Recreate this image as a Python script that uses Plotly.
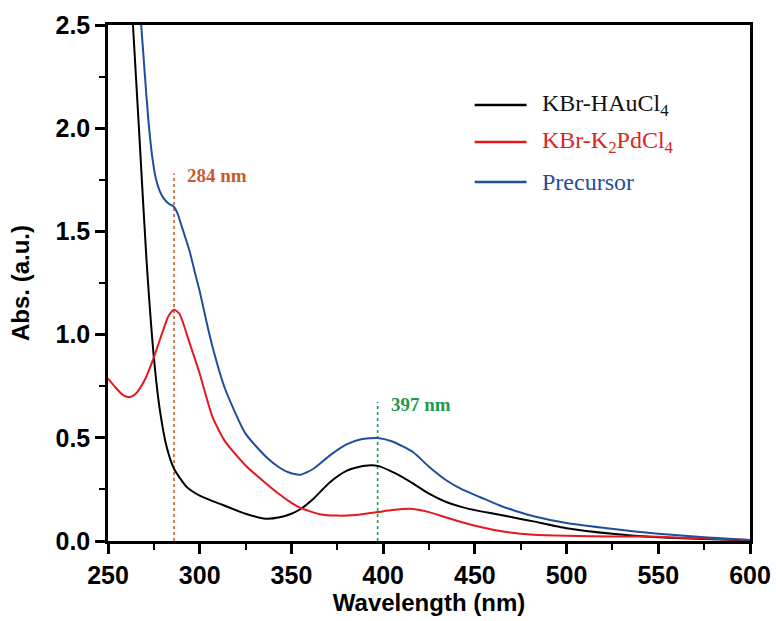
import plotly.graph_objects as go

# ---------------- data ----------------
wl_au = [262, 263.6, 267, 271, 275, 278.3, 282, 286, 293, 300, 311, 325, 336, 343.6,
         350, 355, 362, 371, 380, 389, 397, 407, 416, 425, 434, 443, 452, 462, 475, 482,
         500, 525, 550, 575, 600]
abs_au = [2.75, 2.50, 1.98, 1.36, 0.89, 0.633, 0.455, 0.35, 0.261, 0.22, 0.18, 0.132,
          0.108, 0.115, 0.132, 0.155, 0.205, 0.285, 0.34, 0.363, 0.364, 0.326, 0.28,
          0.229, 0.19, 0.164, 0.146, 0.13, 0.107, 0.095, 0.062, 0.035, 0.018, 0.01, 0.003]

wl_pd = [250, 254, 258, 261.6, 265, 270, 275, 280, 283, 286, 289, 294.6, 300, 307, 314,
         325, 336, 343.6, 350, 354.6, 365.5, 375, 385, 397, 405, 414.6, 425, 434, 443,
         452, 462, 475, 482, 500, 525, 550, 575, 600]
abs_pd = [0.787, 0.745, 0.708, 0.697, 0.712, 0.78, 0.89, 1.02, 1.09, 1.121, 1.10, 0.956,
          0.81, 0.60, 0.48, 0.366, 0.28, 0.225, 0.185, 0.162, 0.13, 0.123, 0.126, 0.14,
          0.15, 0.156, 0.14, 0.115, 0.091, 0.07, 0.051, 0.035, 0.03, 0.025, 0.022,
          0.02, 0.012, 0.005]

wl_pre = [266.5, 268.1, 270, 272, 274, 276, 278, 280, 283, 286, 288, 290, 294.6, 297.4,
          300, 304, 307.3, 313.7, 325, 336.4, 343.6, 348, 354.6, 362, 371, 380, 388, 397,
          405, 416.4, 425, 434.6, 443, 453, 463.6, 475, 482, 500, 524.5, 550, 575, 600]
abs_pre = [2.70, 2.50, 2.27, 2.04, 1.87, 1.76, 1.70, 1.665, 1.635, 1.619, 1.585, 1.53,
           1.40, 1.30, 1.21, 1.05, 0.93, 0.74, 0.52, 0.406, 0.355, 0.334, 0.321, 0.35,
           0.415, 0.468, 0.493, 0.499, 0.482, 0.43, 0.36, 0.293, 0.25, 0.212, 0.172,
           0.138, 0.12, 0.087, 0.059, 0.035, 0.018, 0.005]

series_names = ["KBr-HAuCl<sub>4</sub>", "KBr-K<sub>2</sub>PdCl<sub>4</sub>", "Precursor"]
series_colors = ["#000000", "#E3191C", "#1F4F9C"]
legend_text_colors = ["#111111", "#D9261F", "#1F4F9C"]

peak_positions = [286, 397]          # where the dotted marker lines stand
peak_heights = [1.78, 0.673]
peak_labels = ["284 nm", "397 nm"]
peak_colors = ["#C85A2A", "#1E9A4C"]

x_ticks = [250, 300, 350, 400, 450, 500, 550, 600]
y_ticks = [0.0, 0.5, 1.0, 1.5, 2.0, 2.5]

# ---------------- figure ----------------
fig = go.Figure()
for wl, ab, name, col in zip([wl_au, wl_pd, wl_pre], [abs_au, abs_pd, abs_pre],
                             series_names, series_colors):
    fig.add_trace(go.Scatter(x=wl, y=ab, mode="lines", name=name, showlegend=False,
                             line=dict(color=col, width=2, shape="spline", smoothing=0.6)))

# dotted marker lines and labels
for pos, h, lab, col in zip(peak_positions, peak_heights, peak_labels, peak_colors):
    fig.add_shape(type="line", xref="x", yref="y", x0=pos, x1=pos, y0=0, y1=h,
                  line=dict(color=col, width=1.6, dash="dot"), layer="below")
    fig.add_annotation(x=pos + 6, y=h - 0.01, xref="x", yref="y", text="<b>%s</b>" % lab,
                       showarrow=False, xanchor="left", yanchor="middle",
                       font=dict(family="Liberation Serif, Times New Roman, serif",
                                 size=19, color=col))

# manual legend (line swatches + labels)
leg_y = [2.112, 1.933, 1.739]
for yy, name, col, tcol in zip(leg_y, series_names, series_colors, legend_text_colors):
    fig.add_shape(type="line", xref="x", yref="y", x0=449.9, x1=478.2, y0=yy, y1=yy,
                  line=dict(color=col, width=2.5))
    fig.add_annotation(x=485.3, y=yy, xref="x", yref="y", text=name, showarrow=False,
                       xanchor="left", yanchor="middle",
                       font=dict(family="Liberation Serif, Times New Roman, serif",
                                 size=24, color=tcol))

axis_font = dict(family="Liberation Sans, Arial, sans-serif", size=24, color="black")
tick_font = dict(family="Liberation Sans, Arial, sans-serif", size=25, color="black",
                 weight="bold")
fig.update_xaxes(range=[250, 600], tickvals=x_ticks, ticktext=[str(v) for v in x_ticks],
                 ticks="outside", ticklen=10, tickwidth=2.5, tickcolor="black",
                 showline=True, linecolor="black", linewidth=2.5, mirror=True,
                 showgrid=False, zeroline=False, tickfont=tick_font,
                 minor=dict(dtick=25, tick0=250, ticks="outside", ticklen=6,
                            tickwidth=2, tickcolor="black", showgrid=False),
                 title=dict(text="<b>Wavelength (nm)</b>", font=axis_font, standoff=6))
fig.update_yaxes(range=[0, 2.5], tickvals=y_ticks, ticktext=["%.1f" % v for v in y_ticks],
                 ticks="outside", ticklen=10, tickwidth=2.5, tickcolor="black",
                 showline=True, linecolor="black", linewidth=2.5, mirror=True,
                 showgrid=False, zeroline=False, tickfont=tick_font,
                 minor=dict(dtick=0.25, tick0=0, ticks="outside", ticklen=6,
                            tickwidth=2, tickcolor="black", showgrid=False),
                 title=dict(text="<b>Abs. (a.u.)</b>", font=axis_font, standoff=20))

fig.update_layout(width=776, height=621, plot_bgcolor="white", paper_bgcolor="white",
                  margin=dict(l=108, r=26, t=25, b=80, autoexpand=False),
                  showlegend=False)

fig.write_html("out.html")
